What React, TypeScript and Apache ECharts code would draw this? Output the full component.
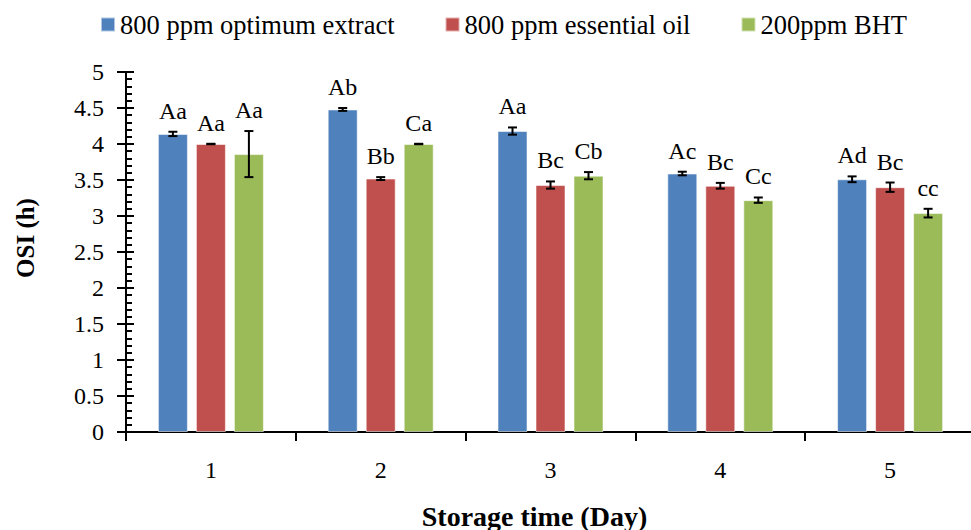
import React, { useEffect, useRef } from "react";
import * as echarts from "echarts";

const categories = ["1", "2", "3", "4", "5"];
const seriesNames = ["800 ppm optimum extract", "800 ppm essential oil", "200ppm BHT"];
const extract = [4.14, 4.48, 4.18, 3.59, 3.51];
const extractErr = [0.03, 0.02, 0.05, 0.025, 0.04];
const extractLetters = ["Aa", "Ab", "Aa", "Ac", "Ad"];
const oil = [4.0, 3.52, 3.43, 3.42, 3.4];
const oilErr = [0.003, 0.02, 0.05, 0.04, 0.065];
const oilLetters = ["Aa", "Bb", "Bc", "Bc", "Bc"];
const bht = [3.86, 4.0, 3.56, 3.22, 3.04];
const bhtErr = [0.32, 0.003, 0.05, 0.037, 0.06];
const bhtLetters = ["Aa", "Ca", "Cb", "Cc", "cc"];
const colors = ["#4F81BD", "#C0504D", "#9BBB59"];

const FONT = "Liberation Serif";
const BAR_W = 30;
const BAR_GAP = 8;

export default function App() {
  const ref = useRef<HTMLDivElement>(null);
  useEffect(() => {
    if (!ref.current) return;
    const chart = echarts.init(ref.current, undefined, { renderer: "svg" });
    const values = [extract, oil, bht];
    const errs = [extractErr, oilErr, bhtErr];
    const letters = [extractLetters, oilLetters, bhtLetters];

    const barSeries = values.map((v, si) => ({
      name: seriesNames[si],
      type: "bar",
      data: v,
      barWidth: BAR_W,
      barGap: (BAR_GAP / BAR_W) * 100 + "%",
      itemStyle: { color: colors[si], borderColor: "rgba(255,255,255,0.55)", borderWidth: 1 },
      z: 2,
    }));

    const errSeries = values.map((v, si) => ({
      name: "err" + si,
      type: "custom",
      z: 5,
      data: v.map((val, i) => [i, val, errs[si][i]]),
      encode: { x: 0, y: 1 },
      renderItem: (params: any, api: any) => {
        const idx = api.value(0);
        const val = api.value(1);
        const e = api.value(2);
        const lab = letters[si][params.dataIndex];
        const off = (si - 1) * (BAR_W + BAR_GAP);
        const c = api.coord([idx, val]);
        const x = c[0] + off;
        const top = api.coord([idx, val + e])[1];
        const bot = api.coord([idx, val - e])[1];
        const cap = 4.5;
        const ls = { stroke: "#000", lineWidth: 2 };
        return {
          type: "group",
          children: [
            { type: "line", shape: { x1: x, y1: top, x2: x, y2: bot }, style: ls },
            { type: "line", shape: { x1: x - cap, y1: top, x2: x + cap, y2: top }, style: ls },
            { type: "line", shape: { x1: x - cap, y1: bot, x2: x + cap, y2: bot }, style: ls },
            {
              type: "text",
              x: x,
              y: top - 9,
              style: {
                text: lab,
                align: "center",
                verticalAlign: "bottom",
                fill: "#000",
                fontFamily: FONT,
                fontSize: 24,
              },
            },
          ],
        };
      },
    }));

    chart.setOption({
      animation: false,
      textStyle: { fontFamily: FONT, color: "#000" },
      legend: {
        data: seriesNames,
        top: 6,
        left: 95,
        itemWidth: 14,
        itemHeight: 14,
        itemGap: 50,
        icon: "rect",
        textStyle: { fontFamily: FONT, fontSize: 26.5, color: "#000" },
      },
      grid: { left: 126, right: -4, top: 72, bottom: 98, containLabel: false, outerBoundsMode: "none" },
      xAxis: [
        {
          type: "category",
          data: categories,
          position: "bottom",
          axisLine: { lineStyle: { color: "#000", width: 2 } },
          axisTick: { show: true, length: 9, lineStyle: { color: "#000", width: 2 } },
          axisLabel: { fontFamily: FONT, fontSize: 24, color: "#000", margin: 26 },
          name: "Storage time (Day)",
          nameLocation: "middle",
          nameGap: 70,
          nameTextStyle: {
            fontFamily: FONT,
            fontSize: 28,
            fontWeight: "bold",
            color: "#000",
            padding: [0, 32, 0, 0],
          },
        },
        {
          type: "category",
          data: categories,
          position: "bottom",
          offset: 0,
          axisLine: { show: false },
          axisTick: { show: true, inside: true, alignWithLabel: true, length: 6, lineStyle: { color: "#000", width: 2 } },
          axisLabel: { show: false },
        },
      ],
      yAxis: [
        {
          type: "value",
          min: 0,
          max: 5,
          interval: 0.5,
          position: "left",
          splitLine: { show: false },
          axisLine: { show: true, lineStyle: { color: "#000", width: 2 } },
          axisTick: { show: true, length: 9, lineStyle: { color: "#000", width: 2 } },
          axisLabel: { fontFamily: FONT, fontSize: 24, color: "#000", margin: 22 },
          name: "OSI (h)",
          nameLocation: "middle",
          nameGap: 88,
          nameTextStyle: {
            fontFamily: FONT,
            fontSize: 25,
            fontWeight: "bold",
            color: "#000",
            padding: [0, 0, 0, 28],
          },
        },
        {
          type: "value",
          min: 0,
          max: 5,
          interval: 0.5,
          position: "left",
          offset: 0,
          splitLine: { show: false },
          axisLine: { show: false },
          axisTick: { show: true, inside: true, length: 8, lineStyle: { color: "#000", width: 2 } },
          minorTick: { show: true, splitNumber: 5, length: 6, lineStyle: { color: "#000", width: 2 } },
          axisLabel: { show: false },
        },
      ],
      series: [...barSeries, ...errSeries],
    });
    return () => chart.dispose();
  }, []);
  return (
    <div
      ref={ref}
      style={{ position: "fixed", left: 0, top: 0, width: 971, height: 530, background: "#fff" }}
    />
  );
}
